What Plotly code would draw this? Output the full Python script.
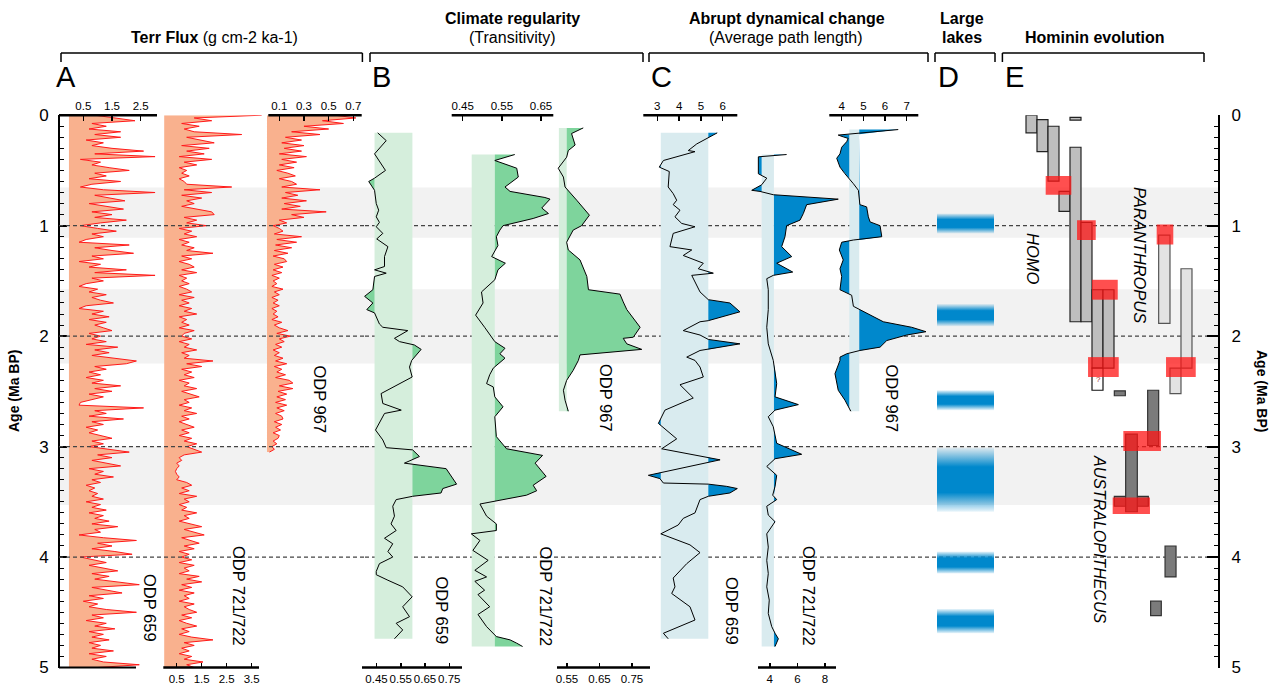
import plotly.graph_objects as go

W, H = 1279, 686
def PX(x): return x / W
def PY(y): return 1 - y / H

Y_TOP, Y_BOT = 115.2, 667.5      # pixel rows of 0 Ma and 5 Ma
X_LAX, X_RAX = 59, 1219          # left / right age axes

# ---------------- DATA ----------------
FLUX_STEP = 0.025  # Ma between samples of the terrigenous flux records
flux_659 = [0.9,1.6,2.3,0.8,1.3,0.7,1.8,0.9,1.8,0.6,
            1.2,0.8,1.5,2.6,0.9,3.0,0.4,1.1,0.8,1.4,
            2.1,0.9,1.3,0.7,1.8,0.8,0.4,1.2,3.0,0.9,
            1.4,1.95,0.7,1.3,1.9,0.8,1.5,0.9,2.0,1.1,
            0.4,1.0,1.65,0.8,1.2,0.6,0.35,2.1,0.9,1.5,
            2.25,0.8,1.2,0.35,1.1,0.7,2.0,0.9,3.0,0.8,
            1.2,0.6,0.35,1.0,0.7,1.3,0.8,1.1,1.55,0.6,
            0.35,1.2,0.8,1.4,0.7,1.3,0.9,1.2,1.5,0.7,
            1.1,0.8,1.3,0.6,1.7,0.9,1.4,0.8,1.6,2.35,
            2.0,0.9,1.3,0.7,1.1,0.6,1.2,0.8,1.8,0.9,
            1.5,0.7,1.2,0.8,0.4,0.35,2.6,0.9,1.3,0.7,
            1.9,0.8,1.2,0.6,1.0,0.7,1.1,1.5,0.8,1.2,
            0.7,1.4,2.1,1.0,1.5,0.8,1.3,1.8,0.7,1.2,
            0.9,1.55,0.8,1.1,0.6,0.9,0.7,1.0,0.8,1.2,
            0.6,1.1,0.8,1.3,0.7,1.2,0.9,1.4,0.8,1.7,
            0.9,1.1,0.35,1.2,2.35,1.0,1.5,0.8,1.6,2.2,
            0.4,0.9,1.3,0.7,1.2,1.7,0.8,1.4,0.9,1.6,
            2.45,0.8,1.4,1.85,0.7,1.2,0.5,1.0,0.7,1.3,
            2.35,0.8,1.2,0.6,1.3,0.9,1.6,0.7,1.2,0.8,
            1.4,0.7,1.1,0.8,1.55,0.7,1.3,0.8,1.2,2.45,
            1.0]
flux_721 = [3.9,1.2,1.9,0.7,1.4,0.8,1.2,3.1,0.9,1.5,
            2.0,0.7,1.8,0.9,1.6,0.6,1.9,0.8,1.3,0.6,
            0.9,0.7,1.0,0.6,0.8,0.9,2.7,0.8,1.9,0.7,
            1.5,0.9,1.2,0.7,1.3,1.9,2.0,0.8,1.3,0.9,
            1.7,0.6,1.1,0.8,1.3,0.6,1.0,0.7,1.2,0.9,
            1.95,0.7,1.1,0.6,1.0,1.2,0.7,1.3,0.6,0.9,
            0.7,1.0,0.6,0.9,1.1,0.6,1.2,0.7,1.0,0.6,
            1.1,0.8,1.3,0.6,0.9,0.7,1.0,0.6,1.2,0.8,
            0.7,1.1,0.6,1.0,0.8,1.3,0.7,1.0,0.8,1.95,
            0.9,1.5,0.7,1.1,0.8,1.2,0.6,1.0,0.8,1.3,
            0.7,1.1,1.4,0.8,1.0,0.6,1.1,0.8,1.3,0.7,
            1.0,0.6,0.9,1.2,0.7,1.0,0.6,1.1,0.8,1.3,
            0.9,1.2,1.5,0.8,0.6,0.7,0.5,0.6,0.5,0.45,
            0.5,0.6,0.5,0.9,1.1,0.7,1.0,0.6,1.3,0.8,
            1.0,0.6,0.9,0.7,1.3,0.8,1.0,0.6,1.1,1.5,
            0.8,1.2,1.6,0.7,1.1,1.4,0.8,1.2,0.6,1.0,
            0.7,1.1,0.6,1.2,0.8,1.0,0.6,1.4,0.9,1.5,
            0.7,1.1,0.6,1.2,0.8,1.0,0.6,1.2,0.8,1.0,
            1.3,0.7,1.1,0.6,0.9,1.3,0.7,1.0,0.6,1.1,
            1.95,0.8,1.2,0.7,1.0,0.6,1.1,0.8,1.55,0.9,
            1.2]
flux_967 = [0.55,0.72,0.45,0.62,0.30,0.50,0.20,0.43,0.15,0.28,
            0.12,0.30,0.14,0.28,0.10,0.32,0.12,0.24,0.10,0.22,
            0.08,0.17,0.23,0.10,0.20,0.24,0.12,0.43,0.15,0.25,
            0.12,0.32,0.14,0.27,0.12,0.48,0.20,0.30,0.10,0.16,
            0.05,0.10,0.13,0.06,0.28,0.08,0.24,0.07,0.20,0.06,
            0.17,0.05,0.14,0.16,0.06,0.13,0.05,0.12,0.04,0.10,
            0.05,0.08,0.04,0.13,0.06,0.10,0.04,0.09,0.05,0.10,
            0.04,0.08,0.05,0.09,0.04,0.12,0.06,0.10,0.17,0.08,
            0.19,0.10,0.14,0.07,0.12,0.05,0.10,0.06,0.13,0.07,
            0.16,0.06,0.12,0.08,0.15,0.07,0.18,0.21,0.10,0.21,
            0.09,0.16,0.08,0.15,0.07,0.16,0.08,0.14,0.07,0.12,
            0.13,0.06,0.12,0.07,0.11,0.05,0.10,0.09,0.05,0.08,
            0.04,0.06,0.02]

# Climate regularity (transitivity)
trans_659_age = [0.16,0.23,0.35,0.44,0.50,0.57,0.60,0.68,0.80,0.86,0.92,0.97,1.01,1.07,1.12,1.19,1.28,1.37,1.40,1.43,
                 1.46,1.58,1.64,1.70,1.76,1.79,1.89,1.92,1.95,2.02,2.05,2.08,2.12,2.22,2.28,2.37,2.52,2.61,2.67,2.70,
                 2.76,2.85,2.94,3.01,3.03,3.09,3.15,3.20,3.34,3.38,3.42,3.45,3.48,3.54,3.63,3.70,3.76,3.83,3.88,3.95,
                 4.00,4.06,4.13,4.16,4.21,4.27,4.36,4.45,4.54,4.60,4.66,4.74]
trans_659 = [0.455,0.490,0.442,0.469,0.487,0.442,0.418,0.442,0.449,0.459,0.449,0.462,0.449,0.476,0.451,0.497,0.483,0.483,0.442,0.490,
             0.442,0.435,0.401,0.435,0.410,0.442,0.462,0.476,0.579,0.524,0.545,0.606,0.634,0.595,0.586,0.597,0.469,0.476,0.552,0.483,
             0.469,0.446,0.476,0.490,0.599,0.627,0.565,0.737,0.780,0.723,0.716,0.599,0.531,0.517,0.524,0.510,0.531,0.483,0.517,0.497,
             0.517,0.462,0.449,0.449,0.497,0.558,0.597,0.558,0.586,0.531,0.558,0.524]
trans_721_age = [0.356,0.41,0.48,0.56,0.65,0.69,0.745,0.76,0.84,0.89,0.935,1.0,1.04,1.10,1.18,1.28,1.34,1.40,1.49,1.60,
                 1.70,1.81,1.92,2.05,2.11,2.16,2.20,2.29,2.35,2.43,2.46,2.55,2.64,2.73,2.91,3.02,3.08,3.15,3.27,3.35,
                 3.40,3.44,3.52,3.63,3.70,3.76,3.79,3.85,3.94,4.03,4.12,4.18,4.22,4.30,4.34,4.45,4.52,4.63,4.72,4.75,
                 4.78,4.81]
trans_721 = [0.583,0.532,0.588,0.592,0.558,0.571,0.660,0.673,0.652,0.669,0.630,0.553,0.545,0.536,0.540,0.524,0.559,0.540,0.532,0.498,
             0.502,0.483,0.506,0.532,0.558,0.545,0.558,0.528,0.519,0.511,0.528,0.532,0.553,0.532,0.536,0.562,0.654,0.635,0.663,0.630,
             0.639,0.613,0.494,0.511,0.536,0.536,0.472,0.494,0.476,0.515,0.481,0.511,0.481,0.506,0.489,0.519,0.489,0.511,0.536,0.571,
             0.588,0.603]
trans_967_age = [0.115,0.166,0.27,0.32,0.38,0.48,0.56,0.65,0.77,0.905,1.0,1.04,1.15,1.22,1.31,1.46,1.58,1.62,1.69,1.76,
                 1.92,2.01,2.02,2.07,2.12,2.17,2.22,2.31,2.40,2.49,2.58,2.68]
trans_967 = [0.600,0.564,0.575,0.554,0.549,0.523,0.539,0.544,0.580,0.619,0.595,0.569,0.549,0.554,0.590,0.611,0.616,0.713,0.723,0.734,
             0.775,0.754,0.723,0.734,0.780,0.590,0.585,0.569,0.549,0.539,0.544,0.554]
trans_bands = {'659': (0.442, 0.598), '721': (0.473, 0.532), '967': (0.525, 0.549)}

# Abrupt dynamical change (average path length)
path_659_age = [0.16,0.26,0.32,0.33,0.41,0.47,0.51,0.65,0.71,0.77,0.81,0.86,0.92,0.98,1.01,1.07,1.19,1.22,1.27,1.34,
                1.39,1.43,1.45,1.60,1.67,1.70,1.78,1.86,1.87,1.95,1.99,2.03,2.07,2.12,2.13,2.19,2.22,2.28,2.37,2.44,
                2.56,2.67,2.79,2.93,3.02,3.12,3.26,3.29,3.33,3.34,3.36,3.38,3.42,3.45,3.48,3.60,3.65,3.71,3.79,3.89,
                3.96,4.06,4.19,4.27,4.33,4.45,4.57,4.69,4.74]
path_659 = [5.75,4.81,4.42,4.73,3.28,3.09,3.55,3.50,3.73,3.89,3.73,4.04,3.81,4.12,4.73,3.73,3.58,4.58,4.19,5.11,
            4.88,5.57,4.58,4.96,5.34,6.33,6.79,5.34,4.96,4.19,4.96,5.34,6.79,5.34,4.96,4.35,4.73,4.96,5.11,4.04,
            4.65,3.35,3.05,3.89,3.20,5.88,2.59,3.12,3.28,5.34,6.18,6.67,6.33,5.34,4.96,4.73,4.19,3.96,3.16,4.50,
            4.96,4.35,3.73,3.81,3.66,4.50,4.73,3.28,3.50]
path_721_age = [0.356,0.377,0.53,0.57,0.63,0.68,0.69,0.72,0.76,0.81,0.89,0.95,1.0,1.10,1.19,1.28,1.34,1.42,1.45,1.48,
                1.58,1.76,1.92,2.07,2.22,2.31,2.43,2.55,2.62,2.67,2.73,2.82,2.97,3.07,3.11,3.18,3.26,3.36,3.44,3.48,
                3.54,3.62,3.68,3.79,3.91,4.03,4.15,4.27,4.39,4.51,4.63,4.69,4.74,4.81]
path_721 = [5.22,3.17,3.17,3.78,3.41,2.69,3.29,4.25,8.96,6.67,6.43,6.19,5.22,5.10,4.86,5.59,4.50,5.66,4.25,3.78,
            3.89,3.89,3.78,3.89,4.25,4.38,4.50,4.38,6.07,4.38,3.89,4.25,4.50,6.31,4.38,3.78,4.50,4.38,4.21,4.50,
            3.78,3.89,4.38,3.78,3.89,3.78,3.89,3.78,3.96,3.89,4.14,4.38,4.62,4.38]
path_967_age = [0.13,0.166,0.18,0.196,0.21,0.24,0.29,0.35,0.39,0.47,0.53,0.62,0.68,0.81,0.83,0.92,0.966,1.0,1.10,1.13,
                1.15,1.22,1.31,1.39,1.46,1.58,1.63,1.73,1.79,1.87,1.92,1.96,1.99,2.04,2.10,2.13,2.16,2.19,2.22,2.34,
                2.49,2.58,2.68]
path_967 = [6.61,4.84,3.84,4.07,4.30,4.23,4.00,3.92,3.77,3.92,4.15,4.54,4.77,4.84,5.15,5.23,5.31,5.77,5.85,4.54,
            4.00,3.89,4.07,3.92,4.00,3.92,4.46,4.54,5.15,5.92,7.23,7.89,7.00,6.08,5.77,4.84,4.23,3.92,3.92,3.69,
            3.84,4.15,4.42]
path_bands = {'659': (3.16, 5.34), '721': (3.41, 4.30), '967': (4.35, 4.81)}

# Large lakes (Ma)
lake_top    = [0.89, 1.71, 2.49, 3.01, 3.95, 4.47]
lake_bottom = [1.07, 1.91, 2.67, 3.59, 4.15, 4.69]

# Shaded intervals and reference ages
gray_top    = [0.654, 1.575, 3.00]
gray_bottom = [1.110, 2.247, 3.53]
ref_ages = [1, 2, 3, 4]

# Hominin evolution: column span (in column units) and age span
hom_col0 = [0, 1, 2, 3, 4, 4, 5, 6, 6, 7, 8.03, 11.06, 12.06, 13.09, 14.09, 8.03, 9.06, 12.64, 11.33]
hom_col1 = [1, 2, 3, 4, 5, 5, 6, 7, 7, 8, 9.03, 12.06, 13.09, 14.09, 15.09, 11.12, 10.12, 13.64, 12.30]
hom_top  = [0.00, 0.04, 0.10, 0.69, 0.02, 0.29, 0.97, 1.58, 2.29, 1.58, 2.495, 2.49, 1.086, 2.29, 1.39, 3.45, 2.887, 3.90, 4.40]
hom_bot  = [0.16, 0.33, 0.597, 0.87, 0.045, 1.87, 1.87, 2.29, 2.49, 2.29, 2.54, 2.99, 1.885, 2.52, 2.29, 3.54, 3.59, 4.18, 4.53]
hom_kind = ['homo','homo','homo','homo','homo','homo','homo','homo','unknown','homo',
            'aus','aus','para','para','para','aus','aus','aus','aus']
red_col0 = [1.79, 4.64, 6.00, 5.64, 11.88, 12.73, 8.85, 7.88]
red_col1 = [4.12, 6.34, 8.34, 8.43, 13.39, 15.43, 12.27, 11.27]
red_top  = [0.55, 0.95, 1.49, 2.19, 0.99, 2.19, 2.86, 3.46]
red_bot  = [0.72, 1.13, 1.67, 2.37, 1.17, 2.37, 3.04, 3.61]

# ---------------- STYLE ----------------
FONT = 'Liberation Sans, Arial, Helvetica, sans-serif'
TICKFONT = dict(family=FONT, size=11.5, color='black')
PEACH = '#F9B18E'
RED = '#FF1A1A'
GREEN_BAND = '#D5EEDC'
GREEN_FILL = '#7ED49C'
BLUE_BAND = '#D9EBEF'
BLUE_FILL = '#0088CC'
KIND_STYLE = {'homo': ('#BEBEBE', '#222222'), 'para': ('#E3E3E3', '#555555'),
              'aus': ('#7B7B7B', '#333333'), 'unknown': ('#FFFFFF', '#111111')}

# x-axes: visible axis line (px), calibration ((value, px), (value, px)), side, ticks
axis_specs = {
    'x':   dict(line=(59, 157),      cal=((0.5, 83.3), (2.5, 140.7)),  side='top',    ticks=[0.5, 1.5, 2.5]),
    'x2':  dict(line=(163.3, 259),   cal=((0.5, 176.7), (3.5, 251.7)), side='bottom', ticks=[0.5, 1.5, 2.5, 3.5]),
    'x3':  dict(line=(268.3, 361.7), cal=((0.1, 279.3), (0.7, 353.3)), side='top',    ticks=[0.1, 0.3, 0.5, 0.7]),
    'x4':  dict(line=(362, 462),     cal=((0.45, 376.5), (0.75, 449.3)), side='bottom', ticks=[0.45, 0.55, 0.65, 0.75]),
    'x5':  dict(line=(451.7, 553.3), cal=((0.45, 462.7), (0.65, 541.0)), side='top',  ticks=[0.45, 0.55, 0.65]),
    'x6':  dict(line=(557, 650),     cal=((0.55, 567.0), (0.75, 632.0)), side='bottom', ticks=[0.55, 0.65, 0.75]),
    'x7':  dict(line=(643.3, 737.3), cal=((3, 657.3), (6, 722.7)),     side='top',    ticks=[3, 4, 5, 6]),
    'x8':  dict(line=(758, 836),     cal=((4, 769.8), (8, 825.0)),     side='bottom', ticks=[4, 6, 8]),
    'x9':  dict(line=(829.3, 918.3), cal=((4, 841.7), (7, 906.7)),     side='top',    ticks=[4, 5, 6, 7]),
    'x10': dict(dom=(937, 994),      cal=((0, 937), (1, 994))),
    'x11': dict(dom=(1002, 1203),    cal=((0, 1026), (1, 1037))),
}

layout = dict(width=W, height=H, autosize=False, margin=dict(l=0, r=0, t=0, b=0, pad=0, autoexpand=False),
              paper_bgcolor='white', plot_bgcolor='rgba(0,0,0,0)', showlegend=False,
              font=dict(family=FONT, color='black'))
shapes, annotations = [], []

for name, sp in axis_specs.items():
    if 'line' in sp:
        d0, d1 = sp['line'][0] - 25, sp['line'][1] + 30
    else:
        d0, d1 = sp['dom']
    (v0, p0), (v1, p1) = sp['cal']
    k = (v1 - v0) / (p1 - p0)
    ax = dict(domain=[PX(d0), PX(d1)], range=[v0 + (d0 - p0) * k, v0 + (d1 - p0) * k],
              anchor='free', showgrid=False, zeroline=False, showline=False, fixedrange=True, automargin=False)
    if 'line' in sp:
        ypos = Y_TOP if sp['side'] == 'top' else Y_BOT
        ax.update(side=sp['side'], position=PY(ypos), tickmode='array', tickvals=sp['ticks'],
                  ticktext=[str(t) for t in sp['ticks']], ticks='inside', ticklen=5, tickwidth=1.5,
                  tickcolor='black', tickfont=TICKFONT, ticklabelstandoff=3, tickangle=0)
        shapes.append(dict(type='line', xref='paper', yref='paper', x0=PX(sp['line'][0]), x1=PX(sp['line'][1]),
                           y0=PY(ypos), y1=PY(ypos), line=dict(color='black', width=2.5), layer='above'))
    else:
        ax.update(visible=False, position=0)
    layout['xaxis' if name == 'x' else 'xaxis' + name[1:]] = ax

yax_common = dict(domain=[PY(Y_BOT), PY(Y_TOP)], range=[5, 0], anchor='free', showgrid=False, zeroline=False,
                  showline=True, linecolor='black', linewidth=2, tickmode='array', tickvals=[0, 1, 2, 3, 4, 5],
                  ticks='inside', tickwidth=2, tickcolor='black', fixedrange=True, automargin=False,
                  tickfont=dict(family=FONT, size=17, color='black'),
                  minor=dict(dtick=0.1, tick0=0, ticks='inside', ticklen=4, tickwidth=1, tickcolor='black'))
layout['yaxis'] = dict(yax_common, side='left', position=PX(X_LAX), ticklen=7, ticklabelstandoff=6)
layout['yaxis2'] = dict(yax_common, side='right', position=PX(X_RAX), overlaying='y', ticklen=11,
                        ticklabelstandoff=8)

fig = go.Figure()

# --- background shaded intervals & dashed reference lines
for t, b in zip(gray_top, gray_bottom):
    shapes.append(dict(type='rect', xref='paper', yref='y', x0=PX(X_LAX), x1=PX(X_RAX), y0=t, y1=b,
                       fillcolor='#F2F2F2', line=dict(width=0), layer='below'))
for a in ref_ages:
    shapes.append(dict(type='line', xref='paper', yref='y', x0=PX(X_LAX), x1=PX(365), y0=a, y1=a,
                       line=dict(color='#444444', width=1.2, dash='4px,3px'), layer='above'))
    shapes.append(dict(type='line', xref='paper', yref='y', x0=PX(365), x1=PX(X_RAX), y0=a, y1=a,
                       line=dict(color='#444444', width=1.2, dash='4px,3px'), layer='below'))
shapes.append(dict(type='line', xref='paper', yref='paper', x0=PX(X_LAX), x1=PX(136), y0=PY(Y_BOT), y1=PY(Y_BOT),
                   line=dict(color='black', width=2), layer='above'))

# --- Panel A: terrigenous flux
for xa, vals in (('x', flux_659), ('x2', flux_721), ('x3', flux_967)):
    ages = [round(i * FLUX_STEP, 4) for i in range(len(vals))]
    fig.add_trace(go.Scatter(x=vals, y=ages, xaxis=xa, yaxis='y', mode='lines', fill='tozerox',
                             fillcolor=PEACH, line=dict(color=RED, width=1), hoverinfo='skip'))

# --- Panels B & C: band + exceedance fill + line
def with_crossings(ages, vals, lo, hi):
    A, V = [ages[0]], [vals[0]]
    for i in range(1, len(ages)):
        a0, v0, a1, v1 = ages[i - 1], vals[i - 1], ages[i], vals[i]
        cr = []
        for t in (lo, hi):
            if (v0 - t) * (v1 - t) < 0:
                f = (t - v0) / (v1 - v0)
                cr.append((f, a0 + f * (a1 - a0), t))
        for f, a, t in sorted(cr):
            A.append(a); V.append(t)
        A.append(a1); V.append(v1)
    return A, V

series_bc = [
    ('x4', trans_659_age, trans_659, trans_bands['659'], GREEN_BAND, GREEN_FILL),
    ('x5', trans_721_age, trans_721, trans_bands['721'], GREEN_BAND, GREEN_FILL),
    ('x6', trans_967_age, trans_967, trans_bands['967'], GREEN_BAND, GREEN_FILL),
    ('x7', path_659_age, path_659, path_bands['659'], BLUE_BAND, BLUE_FILL),
    ('x8', path_721_age, path_721, path_bands['721'], BLUE_BAND, BLUE_FILL),
    ('x9', path_967_age, path_967, path_bands['967'], BLUE_BAND, BLUE_FILL),
]
for xa, ages, vals, (lo, hi), bandc, fillc in series_bc:
    assert len(ages) == len(vals)
    shapes.append(dict(type='rect', xref=xa, yref='y', x0=lo, x1=hi, y0=ages[0], y1=ages[-1],
                       fillcolor=bandc, line=dict(width=0), layer='below'))
    A, V = with_crossings(ages, vals, lo, hi)
    for base, clipped in ((hi, [max(v, hi) for v in V]), (lo, [min(v, lo) for v in V])):
        fig.add_trace(go.Scatter(x=[base] * len(A), y=A, xaxis=xa, yaxis='y', mode='lines',
                                 line=dict(width=0, color=fillc), hoverinfo='skip'))
        fig.add_trace(go.Scatter(x=clipped, y=A, xaxis=xa, yaxis='y', mode='lines', fill='tonextx',
                                 fillcolor=fillc, line=dict(width=0, color=fillc), hoverinfo='skip'))
    fig.add_trace(go.Scatter(x=vals, y=ages, xaxis=xa, yaxis='y', mode='lines',
                             line=dict(color='black', width=1), hoverinfo='skip'))

# --- Panel D: large lakes (vertical gradient)
lake_scale = [[0, 'rgba(0,136,204,0.08)'], [0.3, 'rgba(0,136,204,1)'],
              [0.7, 'rgba(0,136,204,1)'], [1, 'rgba(0,136,204,0.08)']]
for t, b in zip(lake_top, lake_bottom):
    fig.add_trace(go.Scatter(x=[0, 1, 1, 0, 0], y=[t, t, b, b, t], xaxis='x10', yaxis='y', mode='lines',
                             fill='toself', line=dict(width=0),
                             fillgradient=dict(type='vertical', colorscale=lake_scale), hoverinfo='skip'))

# --- Panel E: hominin ranges
for c0, c1, t, b, kind in zip(hom_col0, hom_col1, hom_top, hom_bot, hom_kind):
    fc, lc = KIND_STYLE[kind]
    shapes.append(dict(type='rect', xref='x11', yref='y', x0=c0, x1=c1, y0=t, y1=b,
                       fillcolor=fc, line=dict(color=lc, width=1.2), layer='above'))
for c0, c1, t, b in zip(red_col0, red_col1, red_top, red_bot):
    shapes.append(dict(type='rect', xref='x11', yref='y', x0=c0, x1=c1, y0=t, y1=b,
                       fillcolor='rgb(255,20,20)', opacity=0.75, line=dict(width=0), layer='above'))

# dummy trace so the right-hand age axis is drawn
fig.add_trace(go.Scatter(x=[None], y=[None], xaxis='x', yaxis='y2', mode='lines', hoverinfo='skip'))

# --- brackets
for x0, x1 in ((61, 362.4), (370, 643), (649, 928), (935, 995), (1002.4, 1204)):
    for (a, b, c, d) in ((x0, 53, x1, 53), (x0, 53, x0, 62), (x1, 53, x1, 62)):
        shapes.append(dict(type='line', xref='paper', yref='paper', x0=PX(a), y0=PY(b), x1=PX(c), y1=PY(d),
                           line=dict(color='black', width=1.5), layer='above'))

def ann(text, x, y, size, angle=0, color='black', family=FONT):
    annotations.append(dict(text=text, xref='paper', yref='paper', x=PX(x), y=PY(y), xanchor='center',
                            yanchor='middle', showarrow=False, textangle=angle,
                            font=dict(family=family, size=size, color=color)))

# titles
ann('<b>Terr Flux</b> (g cm-2 ka-1)', 214, 38, 16)
ann('<b>Climate regularity</b>', 512, 18, 16)
ann('(Transitivity)', 512, 38, 16)
ann('<b>Abrupt dynamical change</b>', 787, 18, 16)
ann('(Average path length)', 786, 38, 16)
ann('<b>Large</b>', 962, 18, 16)
ann('<b>lakes</b>', 962, 38, 16)
ann('<b>Hominin evolution</b>', 1095, 38, 16)
for letter, x in (('A', 66), ('B', 381), ('C', 661), ('D', 948), ('E', 1014)):
    ann(letter, x, 77, 29)
# record labels
for text, x, y in (('ODP 659', 150, 608), ('ODP 721/722', 239, 596), ('ODP 967', 319.5, 399),
                   ('ODP 659', 441.5, 611), ('ODP 721/722', 545.5, 596), ('ODP 967', 606, 398),
                   ('ODP 659', 732, 611), ('ODP 721/722', 809, 596), ('ODP 967', 891.5, 398)):
    ann(text, x, y, 16.5, angle=90)
# genus labels
ann('<i>HOMO</i>', 1033, 258, 16.5, angle=90)
ann('<i>PARANTHROPUS</i>', 1140, 255, 16.5, angle=90)
ann('<i>AUSTRALOPITHECUS</i>', 1100, 539, 16, angle=90)
ann('?', 1098, 379, 8, color='rgb(160,40,40)')
# age axis titles
ann('<b>Age (Ma BP)</b>', 14, 391, 14, angle=-90)
ann('<b>Age (Ma BP)</b>', 1262, 391, 14, angle=90)

layout['shapes'] = shapes
layout['annotations'] = annotations
fig.update_layout(**layout)

fig.write_html("out.html", config={'displayModeBar': False, 'staticPlot': True, 'responsive': False},
               post_script="document.body.style.margin='0';document.body.style.overflow='hidden';")
